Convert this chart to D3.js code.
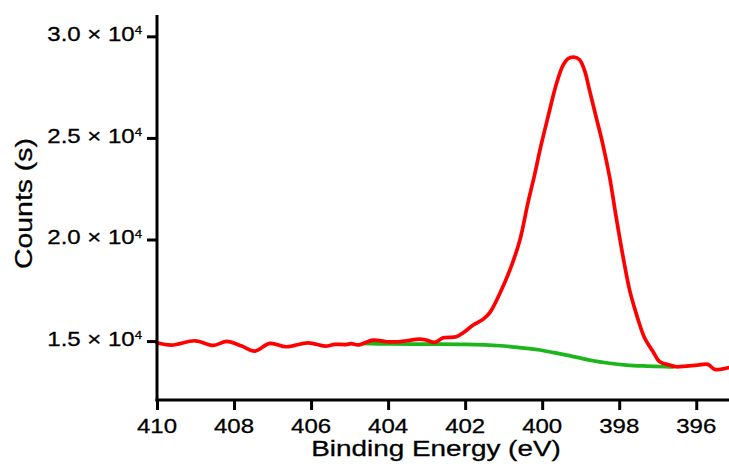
<!DOCTYPE html>
<html>
<head>
<meta charset="utf-8">
<script src="https://cdn.jsdelivr.net/npm/d3@7"></script>
<style>
  html, body { margin: 0; padding: 0; background: #fff; }
  svg { display: block; }
  text { font-family: "Liberation Sans", Arial, sans-serif; fill: #000; stroke: #000; stroke-width: 0.3px; }
</style>
</head>
<body>
<svg id="chart" width="729" height="466"></svg>
<script>
// Binding energy (eV) and counts for the measured spectrum
const spectrumEnergy = [410.00, 409.62, 409.01, 408.54, 408.19, 407.80, 407.46, 407.07, 406.64, 406.08,
  405.64, 405.38, 405.10, 404.95, 404.78, 404.39, 404.04, 403.74, 403.52, 403.18, 403.00, 402.79,
  402.57, 402.23, 402.05, 401.79, 401.53, 401.36, 401.10, 400.84, 400.58, 400.37, 400.19, 400.06,
  399.85, 399.63, 399.46, 399.33, 399.18, 399.03, 398.90, 398.77, 398.60, 398.43, 398.25, 398.08,
  397.90, 397.73, 397.56, 397.34, 397.12, 396.95, 396.69, 396.52, 396.26, 395.96, 395.70, 395.52, 395.17];
const spectrumCounts = [14916, 14803, 15015, 14789, 14985, 14754, 14508, 14887, 14720, 14916,
  14754, 14838, 14830, 14870, 14810, 15049, 14966, 14966, 15015, 15098, 15049, 14934,
  15162, 15211, 15408, 15787, 16082, 16400, 17345, 18490, 19965, 21800, 23244, 24390,
  26029, 27667, 28567, 28896, 28977, 28850, 28323, 27339, 26029, 24720, 23077, 21110,
  19144, 17507, 16362, 15150, 14474, 13982, 13820, 13737, 13771, 13820, 13854, 13609, 13688];

// Background curve
const backgroundEnergy = [404.65, 404.0, 403.0, 402.0, 401.1, 400.7, 400.4, 400.06, 399.7, 399.37,
  399.0, 398.68, 398.3, 397.81, 397.3, 396.77, 396.6];
const backgroundCounts = [14880, 14860, 14850, 14835, 14770, 14700, 14640, 14560, 14430, 14310,
  14160, 14030, 13920, 13820, 13770, 13737, 13730];

const xTicks = [410, 408, 406, 404, 402, 400, 398, 396];
const yTicks = [15000, 20000, 25000, 30000];
const yTickMantissa = ["1.5", "2.0", "2.5", "3.0"];

const svg = d3.select("#chart");
const x = d3.scaleLinear().domain([410, 395.15]).range([157, 729]);
const y = d3.scaleLinear().domain([12100, 31050]).range([400, 15]);

const lineGen = d3.line()
  .x(d => x(d[0])).y(d => y(d[1]))
  .curve(d3.curveCatmullRom.alpha(0.5));

const bg = backgroundEnergy.map((e, i) => [e, backgroundCounts[i]]);
const sp = spectrumEnergy.map((e, i) => [e, spectrumCounts[i]]);

svg.append("path").attr("d", lineGen(bg))
  .attr("fill", "none").attr("stroke", "#1cb51c").attr("stroke-width", 3.7)
  .attr("stroke-linejoin", "round").attr("stroke-linecap", "round");
svg.append("path").attr("d", lineGen(sp))
  .attr("fill", "none").attr("stroke", "#ff0000").attr("stroke-width", 3.7)
  .attr("stroke-linejoin", "round").attr("stroke-linecap", "round");

// Axes
const xAxis = svg.append("g").attr("transform", "translate(0,400)")
  .call(d3.axisBottom(x).tickValues(xTicks).tickSize(10).tickSizeOuter(0).tickFormat(""));
const yAxis = svg.append("g").attr("transform", "translate(157,0)")
  .call(d3.axisLeft(y).tickValues(yTicks).tickSize(10).tickSizeOuter(0).tickFormat(""));
[xAxis, yAxis].forEach(g => {
  g.selectAll("path").attr("stroke", "#000").attr("stroke-width", 3);
  g.selectAll("line").attr("stroke", "#000").attr("stroke-width", 3);
});
xAxis.select("path").attr("d", "M155.5,0H729");
yAxis.select("path").attr("d", "M0,15V401.5");

// X tick labels
svg.append("g").selectAll("text").data(xTicks).join("text")
  .attr("transform", d => `translate(${x(d)},433) scale(1.2,1)`)
  .attr("text-anchor", "middle").attr("font-size", 20)
  .text(d => d);

// Y tick labels with superscript
const yl = svg.append("g").selectAll("text").data(yTicks).join("text")
  .attr("transform", d => `translate(142,${y(d) + 5}) scale(1.2,1)`)
  .attr("text-anchor", "end").attr("font-size", 20);
yl.append("tspan").text((d, i) => yTickMantissa[i] + " \u00d7 10");
yl.append("tspan").attr("font-size", 11).attr("dy", -7).text("4");

// Axis titles
svg.append("text")
  .attr("transform", "translate(436,456) scale(1.24,1)")
  .attr("text-anchor", "middle").attr("font-size", 22.5)
  .text("Binding Energy (eV)");
svg.append("text")
  .attr("transform", "translate(31.5,203.5) rotate(-90) scale(1.16,1)")
  .attr("text-anchor", "middle").attr("font-size", 24.5)
  .text("Counts (s)");
</script>
</body>
</html>
